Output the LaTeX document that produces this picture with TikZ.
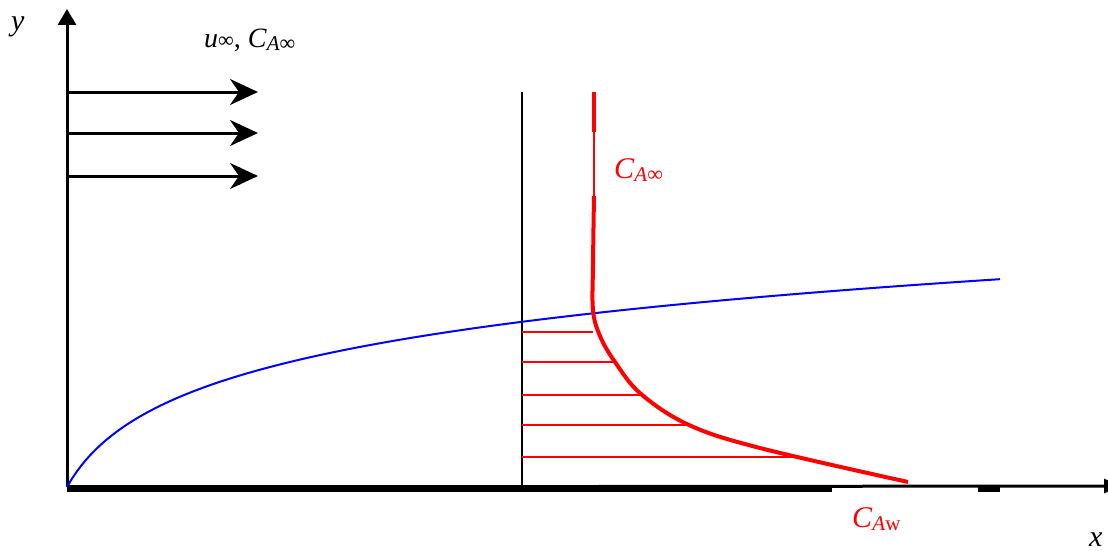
\documentclass[tikz,border=0pt]{standalone}
\usepackage{fontspec}
\setmainfont{Liberation Serif}
\usetikzlibrary{arrows.meta}
\newcommand{\subtxt}[1]{\raisebox{-3pt}{\fontsize{21}{21}\selectfont #1}}
\newcommand{\infsym}{\raisebox{0pt}{\fontsize{22}{22}\selectfont ∞}}
\tikzset{
  axis/.style={line width=3pt},
  wall/.style={line width=7pt},
  flow/.style={line width=3pt,-{Stealth[length=28pt,width=26pt,inset=9pt]}},
  prof/.style={red,line width=4pt},
  thinprof/.style={red,line width=1.5pt},
  hatch/.style={red,line width=2pt},
  bl/.style={blue,line width=2pt},
  lbl/.style={inner sep=0pt,anchor=base west,font=\fontsize{30}{34}\selectfont},
}
\begin{document}
\begin{tikzpicture}[x=1pt,y=-1pt]
\useasboundingbox (0,0) rectangle (1108,551);
\coordinate (O) at (67,487);
\coordinate (ytip) at (67,9);
\coordinate (xtip) at (1120,486);
\begin{scope}
\clip (0,0) rectangle (1108,551);
% axes
\draw[axis,-{Triangle[length=16pt,width=18pt]}] (O) -- (ytip);
\draw[axis,-{Triangle[length=16pt,width=14pt]}] (O) -- (xtip);
\end{scope}
\coordinate (w1) at (832,488);
\coordinate (w2) at (978,488);
\coordinate (w3) at (1000,488);
\draw[wall] (67,488) -- (w1);
\draw[wall] (w2) -- (w3);
% free stream arrows
\foreach \yy/\n in {92/a,133/b,176/c}{
  \coordinate (s\n) at (66,\yy);
  \coordinate (e\n) at (258,\yy);
  \draw[flow] (s\n) -- (e\n);
}
% station line
\coordinate (st1) at (522,92);
\coordinate (st0) at (522,487);
\draw[line width=1.5pt] (st1) -- (st0);
% boundary layer edge
\draw[bl] plot[domain=0:933,samples=200] ({67+\x},{487-62.6*ln(1+\x/35)});
% concentration profile
\draw[prof] (594,92) -- (594,132);
\draw[thinprof] (594,132) -- (594,196);
\draw[prof] plot[smooth,tension=0.6] coordinates {(594,196)(593,265)(593,310)(600,336)(615,362)(641,394)(689,425)(760,448)(908,482)};
\foreach \yy/\xx in {332/593,362/615,395/641,425/689,457/796}{
  \draw[hatch] (522,\yy) -- (\xx,\yy);
}
% labels
\node[lbl,font=\itshape\fontsize{30}{34}\selectfont] (ylab) at (11,31) {y};
\node[lbl,font=\itshape\fontsize{30}{34}\selectfont] (xlab) at (1089,546) {x};
\node[lbl,font=\fontsize{28}{32}\selectfont] (uinf) at (204,48) {\textit{u}\infsym, \textit{C}\subtxt{\textit{A}\infsym}};
\node[lbl,red] (cinf) at (614,178) {\textit{C}\subtxt{\textit{A}\infsym}};
\node[lbl,red] (cw) at (852,527) {\textit{C}\subtxt{\textit{A}w}};
\end{tikzpicture}
\end{document}
